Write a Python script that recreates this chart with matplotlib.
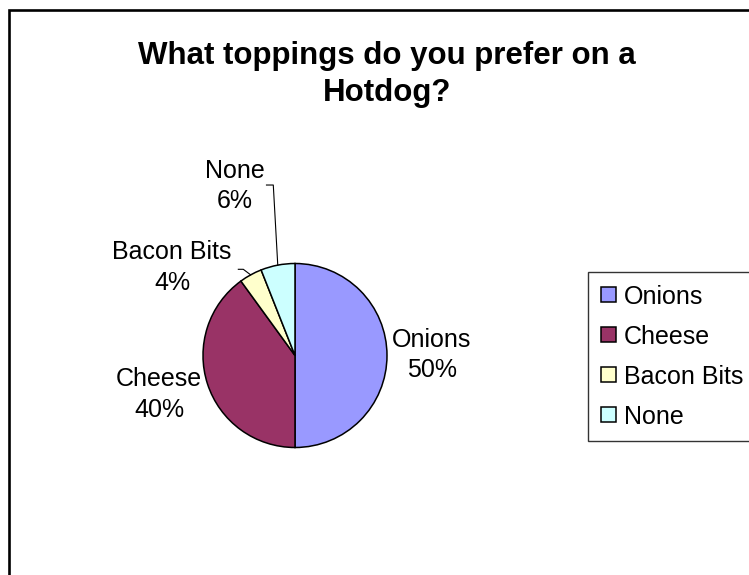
import numpy as np
import matplotlib
matplotlib.use("Agg")
import matplotlib.pyplot as plt
from matplotlib.patches import Rectangle

plt.rcParams['font.family'] = ['Liberation Sans', 'DejaVu Sans']

# Survey results
toppings = ["Onions", "Cheese", "Bacon Bits", "None"]
shares = [50, 40, 4, 6]
colors = ["#9999FF", "#993366", "#FFFFCC", "#CCFFFF"]

W, H = 749, 575
fig = plt.figure(figsize=(W / 100, H / 100), dpi=100)

# chart area border (runs off the right and bottom)
fig.patches.append(Rectangle((9 / W, -0.1), 1.2, 1 - 10 / H + 0.1,
                             transform=fig.transFigure, fill=False,
                             edgecolor="black", linewidth=1.9))

# title, anchored on the baseline of its last line
fig.text(387 / W, 1 - 100.5 / H, "What toppings do you prefer on a\nHotdog?",
         ha="center", va="baseline", fontsize=22.5, fontweight="bold",
         linespacing=1.29)

# pie axes: center (295, 355.5), radius 92 px
cx, cy, r = 295, 355.5, 92
ax = fig.add_axes([(cx - r) / W, (H - cy - r) / H, 2 * r / W, 2 * r / H])
wedges, _ = ax.pie(shares, colors=colors, startangle=90, counterclock=False,
                   radius=1,
                   wedgeprops=dict(edgecolor="black", linewidth=1.1))
ax.set_xlim(-1, 1)
ax.set_ylim(-1, 1)
ax.set_aspect("auto")
ax.axis("off")

# label anchors (baseline of the percent line) in units of the pie radius
label_pos = {
    "Onions": (1.489, -0.239),
    "Cheese": (-1.478, -0.669),
    "Bacon Bits": (-1.337, 0.709),
    "None": (-0.652, 1.598),
}
for name, val in zip(toppings, shares):
    x, y = label_pos[name]
    ax.text(x, y, f"{name}\n{val}%", ha="center", va="baseline",
            fontsize=18, linespacing=1.36, clip_on=False)

# leader lines for the two thin slices
leaders = {
    "Bacon Bits": [(-0.562, 0.937), (-0.616, 0.937)],
    "None": [(-0.236, 1.853), (-0.31, 1.853)],
}
for w, name in zip(wedges, toppings):
    if name not in leaders:
        continue
    mid = np.deg2rad((w.theta1 + w.theta2) / 2)
    pts = [(np.cos(mid), np.sin(mid))] + leaders[name]
    xs, ys = zip(*pts)
    ax.plot(xs, ys, color="black", linewidth=0.8, clip_on=False)

leg = fig.legend(wedges, toppings, loc="upper left",
                 bbox_to_anchor=(588 / W, 1 - 272 / H),
                 fontsize=18, frameon=True, fancybox=False,
                 handlelength=0.6, handleheight=0.55, handletextpad=0.32,
                 labelspacing=0.64, borderpad=0.5, borderaxespad=0)
leg.get_frame().set_edgecolor("black")
leg.get_frame().set_linewidth(1.0)

fig.savefig("out.png", dpi=100)
